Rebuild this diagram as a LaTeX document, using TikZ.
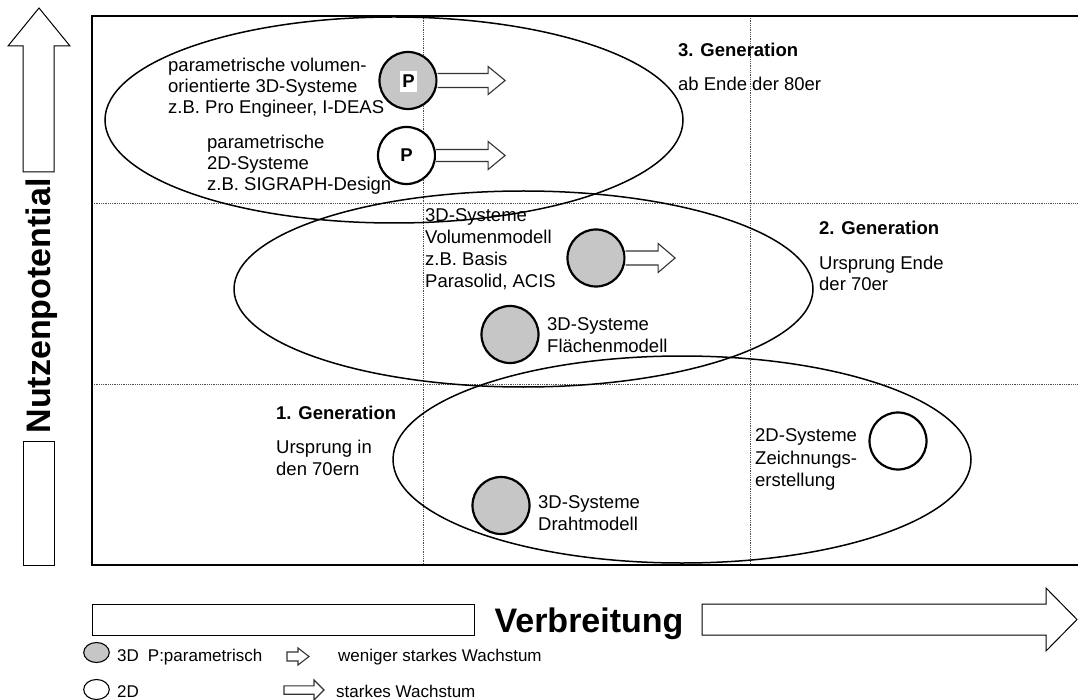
\documentclass[tikz,border=0pt]{standalone}
\usepackage{fontspec}
\setmainfont{Liberation Sans}
\newcommand\blkarrow[6]{% x0, yc, xbase, xtip, shaft half, head half
  \draw[blk] (#1,#2-#5) -- (#3,#2-#5) -- (#3,#2-#6) -- (#4,#2) -- (#3,#2+#6) -- (#3,#2+#5) -- (#1,#2+#5) -- cycle;}
\begin{document}
\begin{tikzpicture}[x=1pt,y=-1pt,
  lbl/.style={font=\fontsize{18.5}{21.7}\selectfont, anchor=base west, inner sep=0pt},
  gen/.style={font=\bfseries\fontsize{18.5}{21.7}\selectfont, anchor=base west, inner sep=0pt},
  leg/.style={font=\fontsize{17}{20}\selectfont, anchor=base west, inner sep=0pt},
  axis/.style={font=\bfseries\fontsize{34}{40}\selectfont, anchor=base, inner sep=0pt},
  bigc/.style={circle, draw, line width=2.2pt, minimum size=57pt, inner sep=0pt,
               font=\bfseries\fontsize{18.5}{20}\selectfont},
  grayc/.style={bigc, fill=gray!45},
  whitec/.style={bigc, fill=white},
  legc/.style={draw, line width=1.1pt},
  gridl/.style={black!70, line width=0.7pt, dash pattern=on 0.9pt off 0.9pt},
  frame/.style={line width=1.3pt},
  ell/.style={line width=1.5pt},
  blk/.style={draw=black!80, line width=1.1pt, fill=white, line join=miter},
  axbox/.style={draw, line width=1pt, fill=white, line join=miter},
]
\useasboundingbox (0,0) rectangle (1078,700);

% grid
\draw[gridl] (92,203) -- (1078,203);
\draw[gridl] (92,384) -- (1078,384);
\draw[gridl] (423,16) -- (423,565);
\draw[gridl] (750,16) -- (750,565);

% frame
\draw[frame] (1080,16) -- (92,16) -- (92,565) -- (1080,565);

% generation ellipses
\draw[ell] (394,120) ellipse [x radius=289pt, y radius=103pt];
\draw[ell] (523.5,289) ellipse [x radius=289.5pt, y radius=98pt];
\draw[ell] (682,459.5) ellipse [x radius=289pt, y radius=103.5pt];

% circles
\node[grayc] (c3p) at (408,80.5) {};
\node[font=\bfseries\fontsize{18.5}{20}\selectfont, fill=white, inner sep=0pt,
      minimum width=17pt, minimum height=21pt] (p3) at (408.5,81.5) {P};
\node[whitec] (c2p) at (406.5,155.5) {P};
\node[grayc] (cvol) at (596,258) {};
\node[grayc] (cfl) at (510,334.5) {};
\node[grayc] (cdr) at (501,505.5) {};
\node[whitec] (c2d) at (898,441) {};

% growth arrows
\draw[blk] (c3p.east) ++(0,-7) -- ++(50.5,0) -- ++(0,-7) -- ++(17,14) -- ++(-17,14) -- ++(0,-7) -- ++(-50.5,0);
\draw[blk] (c2p.east) ++(0,-6) -- ++(52,0) -- ++(0,-8) -- ++(17,14) -- ++(-17,14) -- ++(0,-8) -- ++(-52,0);
\draw[blk] (cvol.east) ++(0,-7) -- ++(32.5,0) -- ++(0,-7.5) -- ++(17,14.5) -- ++(-17,14.5) -- ++(0,-7.5) -- ++(-32.5,0);

% texts 3rd generation
\node[lbl] (a1) at (168,72) {parametrische volumen-};
\node[lbl] (a2) at (168,92.7) {orientierte 3D-Systeme};
\node[lbl] (a3) at (168,113.4) {z.B. Pro Engineer, I-DEAS};
\node[lbl] (b1) at (207,148.5) {parametrische};
\node[lbl] (b2) at (207,169.5) {2D-Systeme};
\node[lbl] (b3) at (207,190.5) {z.B. SIGRAPH-Design};
\node[gen] (g3) at (678,56.7) {3. Generation};
\node[lbl] (g3t) at (678,90.7) {ab Ende der 80er};

% texts 2nd generation
\node[lbl] (v1) at (425,221.7) {3D-Systeme};
\node[lbl] (v2) at (425,243.3) {Volumenmodell};
\node[lbl] (v3) at (425,265.5) {z.B. Basis};
\node[lbl] (v4) at (425,287.3) {Parasolid, ACIS};
\node[lbl] (f1) at (547,330.7) {3D-Systeme};
\node[lbl] (f2) at (547,352.7) {Flächenmodell};
\node[gen] (g2) at (819,235) {2. Generation};
\node[lbl] (g2a) at (819,269.3) {Ursprung Ende};
\node[lbl] (g2b) at (819,290.7) {der 70er};

% texts 1st generation
\node[gen] (g1) at (276,419) {1. Generation};
\node[lbl] (g1a) at (276,453.3) {Ursprung in};
\node[lbl] (g1b) at (276,475) {den 70ern};
\node[lbl] (d1) at (538,508.3) {3D-Systeme};
\node[lbl] (d2) at (538,530.7) {Drahtmodell};
\node[lbl] (z1) at (755,441.7) {2D-Systeme};
\node[lbl] (z2) at (755,464) {Zeichnungs-};
\node[lbl] (z3) at (755,486.7) {erstellung};

% vertical axis
\draw[axbox] (23,172) -- (23,46) -- (8,46) -- (39,8) -- (70,46) -- (54,46) -- (54,172) -- cycle;
\draw[axbox] (23,441) rectangle (54,565);
\node[axis, rotate=90] (ny) at (50,306) {Nutzenpotential};

% horizontal axis
\draw[axbox] (92,604) rectangle (474,635);
\draw[axbox] (702,604) -- (1046,604) -- (1046,588) -- (1077,619.5) -- (1046,651) -- (1046,635) -- (702,635) -- cycle;
\node[axis] (nx) at (589,632) {Verbreitung};

% legend
\draw[legc, fill=gray!45] (96.5,652.5) ellipse [x radius=12.8pt, y radius=10pt];
\draw[legc, fill=white] (96.5,689.5) ellipse [x radius=12.8pt, y radius=10pt];
\node[leg] (l1) at (117,661.7) {3D\hspace{9pt}P:parametrisch};
\node[leg] (l2) at (117,697) {2D};
\blkarrow{287}{656.5}{298}{309}{4.5}{8.5}
\blkarrow{284}{690}{314}{324}{4.2}{10}
\node[leg] (l3) at (338,661.7) {weniger starkes Wachstum};
\node[leg] (l4) at (336,697) {starkes Wachstum};
\end{tikzpicture}
\end{document}
